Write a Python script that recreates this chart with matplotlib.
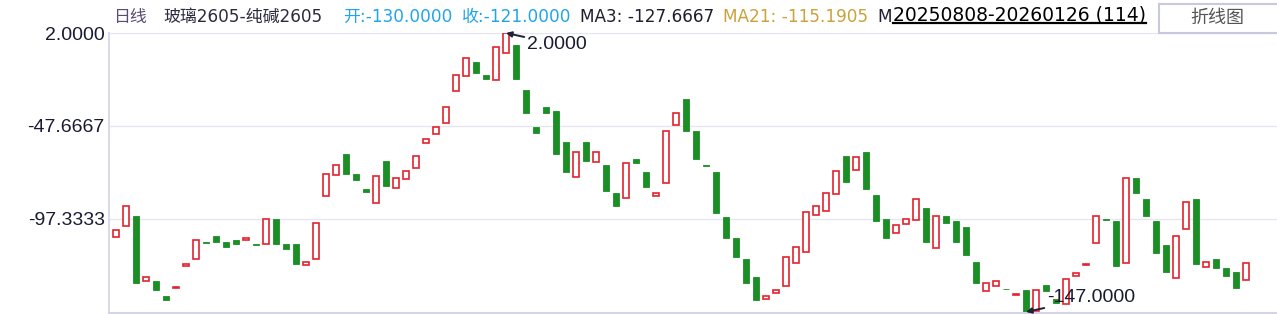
import matplotlib.pyplot as plt
from matplotlib.patches import Rectangle
from matplotlib.lines import Line2D

# 玻璃2605-纯碱2605 日线 K 线数据 (开盘 / 收盘)
opens = [-107.0, -101.0, -95.7, -130.3, -130.4, -138.4, -134.0, -122.3, -118.5, -109.8,
         -106.4, -109.6, -108.5, -108.4, -110.8, -110.8, -97.3, -110.7, -110.7, -122.0,
         -118.5, -85.2, -74.0, -62.6, -73.3, -81.3, -88.9, -66.4, -80.9, -76.1,
         -70.3, -56.9, -52.1, -46.2, -29.1, -21.1, -13.5, -20.4, -23.3, -8.8,
         -4.4, -28.4, -48.2, -37.5, -39.7, -56.2, -75.1, -56.2, -67.0, -68.5,
         -83.4, -86.3, -65.3, -72.2, -85.2, -78.3, -47.3, -33.2, -50.3, -68.6,
         -72.2, -96.3, -107.5, -118.7, -128.3, -140.2, -137.0, -133.3, -121.0, -115.1,
         -95.3, -93.2, -84.1, -63.7, -71.3, -61.5, -84.5, -97.3, -105.0, -100.2,
         -98.0, -91.5, -113.0, -95.7, -98.4, -101.6, -120.3, -135.9, -133.3, -134.6,
         -137.9, -135.2, -146.3, -132.7, -139.9, -142.9, -127.9, -121.7, -110.3, -97.4,
         -98.4, -121.0, -75.6, -86.6, -98.4, -111.2, -129.0, -102.8, -86.6, -123.1,
         -118.7, -123.5, -125.6, -130.0]
closes = [-103.0, -90.4, -131.3, -128.3, -135.2, -140.6, -133.6, -121.5, -108.5, -110.0,
          -109.4, -112.1, -110.5, -107.6, -111.0, -97.5, -110.5, -113.3, -121.2, -120.4,
          -99.6, -73.5, -68.7, -73.3, -76.3, -83.1, -74.4, -79.5, -75.4, -71.7,
          -63.7, -54.6, -48.2, -37.5, -20.6, -11.4, -19.2, -22.4, -5.6, 2.0,
          -22.4, -40.6, -51.2, -40.6, -62.4, -72.1, -61.7, -66.2, -61.7, -82.2,
          -90.2, -67.6, -67.2, -80.1, -83.6, -50.5, -40.9, -50.2, -65.1, -68.8,
          -94.3, -107.3, -117.5, -131.3, -140.4, -138.6, -135.4, -117.8, -112.4, -93.7,
          -90.5, -83.6, -71.9, -77.4, -64.2, -81.1, -98.2, -107.3, -100.7, -97.5,
          -86.8, -109.4, -95.9, -99.3, -109.4, -116.4, -131.3, -131.7, -130.6, -134.8,
          -137.5, -147.0, -135.4, -135.9, -142.3, -129.5, -126.0, -121.3, -95.9, -97.6,
          -122.3, -75.6, -83.3, -95.6, -115.3, -125.5, -106.6, -88.4, -121.2, -120.4,
          -123.3, -128.0, -134.0, -121.0]

ytick_vals = [2.0, -47.6667, -97.3333]
ytick_labels = ['2.0000', '-47.6667', '-97.3333']

UP = '#e3232f'
DOWN = '#1b8f26'
CJK = ['DejaVu Sans', 'Noto Sans CJK SC']

W, H = 1277, 314
fig = plt.figure(figsize=(W / 100, H / 100), dpi=100)
ax = fig.add_axes([109 / W, 1.5 / H, 1168 / W, 279.5 / H])

x = list(range(len(opens)))
for i in x:
    o, c = opens[i], closes[i]
    h = c - o
    if abs(h) < 0.3:
        h = 0.3 if h >= 0 else -0.3
    if c >= o:
        ax.bar(i, h, bottom=o, width=0.6, facecolor='white', edgecolor=UP, linewidth=1.2)
    else:
        ax.bar(i, h, bottom=o, width=0.6, facecolor=DOWN, edgecolor=DOWN, linewidth=0.6)

ax.set_xlim(-0.7, 116.1)
ax.set_ylim(-147.3, 2.0)
ax.set_yticks(ytick_vals)
ax.set_yticklabels(ytick_labels, family='Liberation Sans', fontsize=14, color='#1a1a33')
ax.tick_params(axis='y', length=0, pad=3)
ax.set_xticks([])
ax.yaxis.grid(True, color='#e6e6f2', linewidth=1)
ax.set_axisbelow(True)
for s in ['top', 'right']:
    ax.spines[s].set_visible(False)
ax.spines['left'].set_color('#dadaea')
ax.spines['left'].set_linewidth(1.5)
ax.spines['bottom'].set_color('#d4d4e4')
ax.spines['bottom'].set_linewidth(1.5)

# 最高 / 最低标注
arrow = dict(arrowstyle='-|>', color='#1f1f3a', lw=1.4, mutation_scale=8, shrinkA=0, shrinkB=0)
ax.annotate('2.0000', xy=(39, 2.0), xytext=(41.1, -3.9), ha='left', va='center',
            family='Liberation Sans', fontsize=14, color='#1a1a33', arrowprops=arrow,
            annotation_clip=False)
ax.annotate('-147.0000', xy=(91, -147.0), xytext=(93.1, -139.5), ha='left', va='center',
            family='Liberation Sans', fontsize=14, color='#1a1a33', arrowprops=arrow,
            annotation_clip=False)

# 顶部信息栏
def ftext(px, py, s, color, size=12.2, va='center'):
    fig.text(px / W, 1 - py / H, s, color=color, fontsize=size, family=CJK,
             ha='left', va=va)

ftext(113, 17, '日线', '#5b4d72')
ftext(163, 17, '玻璃2605-纯碱2605', '#2b2b40')
ftext(343, 17, '开:-130.0000', '#1fa6e8')
ftext(462, 17, '收:-121.0000', '#1fa6e8')
ftext(580, 17, 'MA3: -127.6667', '#1e1e30')
ftext(723, 17, 'MA21: -115.1905', '#c9a23a')
ftext(877, 17, 'M', '#1e1e30')
ftext(893, 20.8, '20250808-20260126 (114)', '#000000', size=13.5, va='baseline')
fig.add_artist(Line2D([893 / W, 1146 / W], [1 - 23 / H, 1 - 23 / H],
                      color='black', linewidth=1.6))

# 折线图 按钮
fig.add_artist(Rectangle((1159 / W, 1 - 32.5 / H), 130 / W, 28.5 / H,
                         facecolor='white', edgecolor='#c8c8e0', linewidth=1.5))
fig.text(1217 / W, 1 - 18 / H, '折线图', color='#555555', fontsize=13,
         family=['Noto Sans CJK SC', 'DejaVu Sans'], ha='center', va='center')

fig.savefig('out.png', dpi=100)
